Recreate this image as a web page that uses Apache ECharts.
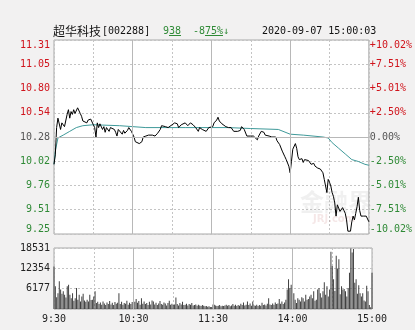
<!DOCTYPE html>
<html><head><meta charset="utf-8">
<script src="https://cdn.jsdelivr.net/npm/echarts@6/dist/echarts.min.js"></script>
<style>html,body{margin:0;padding:0;background:#f2f1f1;}#c{width:415px;height:330px;}</style>
</head><body><div id="c"></div>
<script>
const priceTicks = ['9.25','9.51','9.76','10.02','10.28','10.54','10.80','11.05','11.31'];
const pctTicks = ['-10.02%','-7.51%','-5.01%','-2.50%','0.00%','+2.50%','+5.01%','+7.51%','+10.02%'];
const volTicks = ['', '6177', '12354', '18531'];
const timeTicks = ['9:30','','10:30','','11:30','','14:00','','15:00'];
const prevClose = 10.28;

const priceMinute = [
0,1,2,3,4,5,6,8,10,11,
12,13,14,15,16,18,19,20,21,22,
23,25,26,27,28,30,31,32,33,34,
35,37,38,39,40,42,43,44,46,47,
48,49,50,52,53,54,56,57,58,59,
61,62,63,65,66,67,68,70,72,73,
75,76,77,79,81,82,83,85,87,88,
90,91,92,94,95,97,98,100,102,103,
104,106,107,108,110,111,113,114,116,117,
118,119,121,122,124,125,126,128,129,131,
132,133,135,136,137,138,140,141,142,143,
145,146,147,148,150,151,152,153,155,156,
157,158,160,161,162,164,165,166,167,169,
170,171,172,174,175,176,177,179,180,181,
182,184,185,186,187,189,190,191,192,194,
195,196,198,199,200,201,203,204,205,206,
207,208,209,210,211,212,213,214,215,216,
217,218,219,220,221,222,223,224,225,226,
227,228,229,230,231,232,233,234,235,236,
237,238,239,240];
const priceValue = [
9.99,10.09,10.38,10.48,10.50,10.36,10.43,10.39,10.52,10.57,
10.48,10.55,10.52,10.57,10.53,10.59,10.58,10.53,10.50,10.45,
10.46,10.43,10.46,10.45,10.47,10.41,10.38,10.28,10.43,10.38,
10.42,10.36,10.39,10.33,10.38,10.34,10.38,10.39,10.36,10.33,
10.29,10.36,10.34,10.31,10.35,10.32,10.35,10.38,10.39,10.34,
10.28,10.23,10.22,10.21,10.20,10.23,10.28,10.29,10.30,10.29,
10.30,10.28,10.29,10.32,10.36,10.40,10.38,10.39,10.38,10.39,
10.41,10.39,10.43,10.42,10.38,10.41,10.40,10.43,10.40,10.42,
10.43,10.41,10.42,10.38,10.34,10.38,10.36,10.38,10.34,10.36,
10.38,10.39,10.39,10.43,10.46,10.49,10.45,10.42,10.42,10.39,
10.40,10.38,10.38,10.36,10.34,10.36,10.34,10.32,10.35,10.39,
10.36,10.34,10.29,10.31,10.29,10.31,10.29,10.28,10.25,10.29,
10.30,10.34,10.33,10.30,10.31,10.29,10.28,10.28,10.29,10.28,
10.24,10.22,10.20,10.13,10.11,10.07,10.04,9.97,9.90,10.02,
10.15,10.21,10.16,10.07,10.04,10.05,10.01,10.04,10.06,10.03,
10.01,9.99,10.00,9.97,9.98,9.95,9.94,9.93,9.90,9.83,
9.76,9.69,9.83,9.80,9.76,9.69,9.65,9.58,9.44,9.56,
9.58,9.49,9.51,9.53,9.50,9.47,9.40,9.28,9.28,9.28,
9.38,9.44,9.40,9.47,9.54,9.64,9.50,9.44,9.46,9.44,
9.45,9.44,9.44,9.38];

const avgMinute = [0,1,3,7,12,17,22,30,50,70,100,133,150,171,180,190,205,209,212,217,222,227,232,237,240];
const avgValue = [9.99,10.13,10.27,10.30,10.34,10.38,10.40,10.41,10.40,10.38,10.38,10.38,10.37,10.36,10.31,10.30,10.28,10.27,10.22,10.16,10.10,10.04,10.02,9.99,9.98];

const volume = [
12900,6900,3600,4800,8400,5900,4600,5400,4300,3500,
6900,7400,4300,3300,4800,2500,3300,6400,2800,4300,
2300,3800,4600,2600,2200,2800,2300,4300,2700,2800,
3800,5400,1800,2200,1500,2000,1300,2300,1700,1200,
2000,1500,2400,1400,1900,1200,2100,1600,1900,4800,
1500,2200,1300,1800,1600,2500,1300,1900,1500,2100,
5000,2200,3000,1900,2400,1300,3300,1600,2300,1500,
1800,1200,2200,1400,2600,2300,1400,1900,1200,1700,
2400,1500,1300,2000,1700,1100,1800,2500,1300,1600,
1200,1400,3500,1500,1100,1800,1400,2200,1200,1300,
1600,1100,1500,1300,1800,1100,1200,1400,1000,1300,
1100,900,1200,1000,800,900,700,800,600,600,
1400,1300,1100,900,1000,1200,800,1000,900,1100,
1300,1000,1200,800,1100,1500,1000,1300,900,1200,
1000,1600,1200,2000,1100,1300,2300,1200,1700,1000,
2300,1100,1000,1300,900,1200,1000,1900,1200,1400,
1100,1600,3300,1400,1200,1700,1300,2000,1500,1700,
3000,1600,2300,1500,2000,2800,5900,9000,6400,7400,
8800,4800,2800,1800,3300,2800,2300,3600,3300,2300,
4300,2800,3000,3800,4300,3300,5400,2500,2800,5900,
6400,4800,3500,5400,8100,4300,6900,3800,5900,17400,
13100,9000,5500,16200,12300,15100,4500,6900,5900,6100,
5400,3800,6400,11000,18400,17200,18200,8000,9000,4600,
7200,4800,3800,4800,2600,2300,7100,5400,1200,500,
11000];

const RED = '#d0141c', GREEN = '#2f8a36', GRAY = '#555';
const MONO = '"DejaVu Sans Mono", "Liberation Mono", monospace';
const PMIN = 9.25, PMAX = 11.31, PINT = 0.2575;
function pIdx(v){ return Math.round((v - PMIN) / PINT); }
function pColor(v){ const i = pIdx(v); return i > 4 ? RED : (i === 4 ? GRAY : GREEN); }
const dashed = {show:true, lineStyle:{color:'#c4c4c4', type:[2,2], width:1}};
const solidMark = {
  silent:true, symbol:'none', animation:false, label:{show:false},
  lineStyle:{color:'#b8b8b8', type:'solid', width:1}
};

const chart = echarts.init(document.getElementById('c'), null, {renderer:'canvas'});
chart.setOption({
  animation:false,
  backgroundColor:'#f2f1f1',
  grid:[
    {left:54, right:43, top:40, height:194, show:true, backgroundColor:'#fff', borderColor:'#a8a8a8', borderWidth:1},
    {left:54, right:43, top:248, height:61, show:true, backgroundColor:'#fff', borderColor:'#a8a8a8', borderWidth:1}
  ],
  xAxis:[
    {gridIndex:0, type:'value', min:0, max:240, interval:30, axisLine:{show:false}, axisTick:{show:false}, axisLabel:{show:false}, splitLine:dashed},
    {gridIndex:1, type:'value', min:0, max:240, interval:30, axisLine:{show:false}, axisTick:{show:false}, splitLine:dashed,
     axisLabel:{show:true, margin:5, fontFamily:MONO, fontSize:10, color:'#222',
       formatter:function(v){ return timeTicks[Math.round(v/30)] || ''; }}}
  ],
  yAxis:[
    {gridIndex:0, type:'value', min:PMIN, max:PMAX, interval:PINT, position:'left',
     axisLine:{show:false}, axisTick:{show:false}, splitLine:dashed,
     axisLabel:{margin:4, fontFamily:MONO, fontSize:10, color:pColor,
       verticalAlignMaxLabel:'top', verticalAlignMinLabel:'bottom',
       formatter:function(v){ return priceTicks[pIdx(v)] || ''; }}},
    {gridIndex:0, type:'value', min:PMIN, max:PMAX, interval:PINT, position:'right',
     axisLine:{show:false}, axisTick:{show:false}, splitLine:{show:false},
     axisLabel:{margin:1, fontFamily:MONO, fontSize:10, color:pColor, align:'left',
       verticalAlignMaxLabel:'top', verticalAlignMinLabel:'bottom',
       formatter:function(v){ return pctTicks[pIdx(v)] || ''; }}},
    {gridIndex:1, type:'value', min:0, max:18531, interval:6177, position:'left',
     axisLine:{show:false}, axisTick:{show:false}, splitLine:dashed,
     axisLabel:{margin:4, fontFamily:MONO, fontSize:10, color:'#222',
       formatter:function(v){ return volTicks[Math.round(v/6177)] || ''; }}}
  ],
  series:[
    {type:'line', xAxisIndex:0, yAxisIndex:0, symbol:'none', z:3,
     lineStyle:{color:'#3f9a9a', width:1},
     data: avgMinute.map((m,i)=>[m, avgValue[i]])},
    {type:'line', xAxisIndex:0, yAxisIndex:0, symbol:'none', z:4,
     lineStyle:{color:'#000', width:1},
     data: priceMinute.map((m,i)=>[m, priceValue[i]]),
     markLine:Object.assign({data:[{xAxis:60},{xAxis:120},{xAxis:180},{yAxis:prevClose}]}, solidMark)},
    {type:'bar', xAxisIndex:1, yAxisIndex:2, barWidth:1, itemStyle:{color:'#404040'},
     data: volume.map((v,i)=>[i, v]),
     markLine:Object.assign({data:[{xAxis:60},{xAxis:120},{xAxis:180}]}, solidMark)}
  ],
  graphic:[
    {type:'text', left:300, top:190, z:1, silent:true,
     style:{text:'金融界', font:'bold 24px "Noto Sans CJK SC"', fill:'rgba(170,170,170,0.18)'}},
    {type:'text', left:313, top:214, z:1, silent:true,
     style:{text:'JRJ.com', font:'bold 10px "DejaVu Sans"', fill:'rgba(200,120,120,0.18)'}},
    {type:'text', x:53, y:31, style:{text:'超华科技', font:'12px "Noto Sans CJK SC"', fill:'#111', verticalAlign:'middle'}},
    {type:'text', x:102, y:31, style:{text:'[002288]', font:'10px "DejaVu Sans Mono"', fill:'#111', verticalAlign:'middle'}},
    {type:'text', x:163, y:31, style:{text:'938', font:'10px "DejaVu Sans Mono"', fill:GREEN, verticalAlign:'middle'}},
    {type:'line', shape:{x1:169, y1:35.5, x2:181, y2:35.5}, style:{stroke:GREEN, lineWidth:1}},
    {type:'text', x:193, y:31, style:{text:'-875%↓', font:'10px "DejaVu Sans Mono"', fill:GREEN, verticalAlign:'middle'}},
    {type:'line', shape:{x1:205, y1:35.5, x2:223, y2:35.5}, style:{stroke:GREEN, lineWidth:1}},
    {type:'text', x:262, y:31, style:{text:'2020-09-07 15:00:03', font:'10px "DejaVu Sans Mono"', fill:'#111', verticalAlign:'middle'}}
  ]
});
</script></body></html>
